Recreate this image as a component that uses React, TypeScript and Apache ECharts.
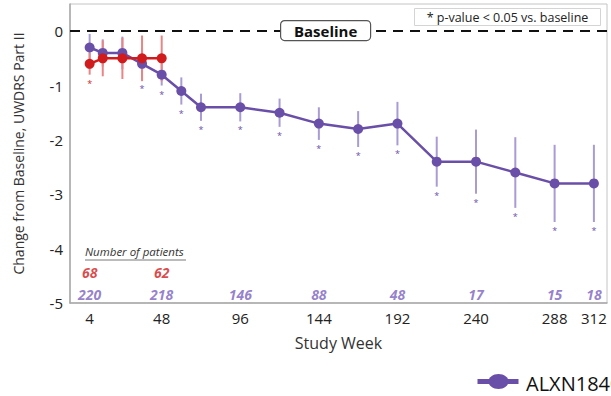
import React, { useEffect, useRef } from "react";
import * as echarts from "echarts";

// ---- Data ----
const alxnWeeks = [4, 12, 24, 36, 48, 60, 72, 96, 120, 144, 168, 192, 216, 240, 264, 288, 312];
const alxnMean = [-0.3, -0.4, -0.4, -0.6, -0.8, -1.1, -1.4, -1.4, -1.5, -1.7, -1.8, -1.7, -2.4, -2.4, -2.6, -2.8, -2.8];
const alxnErr = [0.25, 0.25, 0.3, 0.3, 0.2, 0.25, 0.25, 0.26, 0.26, 0.3, 0.33, 0.4, 0.46, 0.59, 0.65, 0.71, 0.71];
const alxnSig = [0, 0, 0, 1, 1, 1, 1, 1, 1, 1, 1, 1, 1, 1, 1, 1, 1];

const socWeeks = [4, 12, 24, 36, 48];
const socMean = [-0.6, -0.5, -0.5, -0.5, -0.5];
const socErr = [0.2, 0.33, 0.38, 0.42, 0.42];
const socSig = [1, 0, 0, 0, 0];

const alxnCountWeeks = [4, 48, 96, 144, 192, 240, 288, 312];
const alxnCounts = [220, 218, 146, 88, 48, 17, 15, 18];
const socCountWeeks = [4, 48];
const socCounts = [68, 62];

const xTickLabels = [4, 48, 96, 144, 192, 240, 288, 312];
const yTickLabels = [-5, -4, -3, -2, -1, 0];

const PURPLE = "#6A4FA8";
const PURPLE_LIGHT = "#A99BD4";
const RED = "#D01C1C";
const RED_LIGHT = "#E98585";
const FONT = "Open Sans";

function errorBarSeries(name: string, weeks: number[], mean: number[], err: number[], sig: number[], barColor: string, starColor: string) {
  return {
    type: "custom",
    name,
    z: 1,
    silent: true,
    encode: { x: 0, y: 1 },
    data: weeks.map((w, i) => [w, mean[i], err[i], sig[i]]),
    renderItem: (params: any, api: any) => {
      const x = api.value(0);
      const m = api.value(1);
      const e = api.value(2);
      const s = api.value(3);
      const top = api.coord([x, m + e]);
      const bot = api.coord([x, m - e]);
      const children: any[] = [
        {
          type: "line",
          shape: { x1: top[0], y1: top[1], x2: bot[0], y2: bot[1] },
          style: { stroke: barColor, lineWidth: 2 },
        },
      ];
      if (s) {
        children.push({
          type: "text",
          style: {
            text: "*",
            x: bot[0],
            y: bot[1] + 4,
            align: "center",
            verticalAlign: "top",
            fill: starColor,
            fontSize: 9,
            fontFamily: FONT,
          },
        });
      }
      return { type: "group", children };
    },
  };
}

export default function App() {
  const ref = useRef<HTMLDivElement>(null);

  useEffect(() => {
    if (!ref.current) return;
    const chart = echarts.init(ref.current, undefined, { renderer: "svg" });
    const option: any = {
      animation: false,
      textStyle: { fontFamily: FONT },
      grid: {
        left: 70,
        right: 4,
        top: 4,
        bottom: 93,
        show: true,
        borderColor: "#c4c4c4",
        borderWidth: 1,
        backgroundColor: "transparent",
      },
      xAxis: {
        type: "value",
        min: -8,
        max: 320,
        name: "Study Week",
        nameLocation: "middle",
        nameGap: 32,
        nameTextStyle: { fontSize: 16, color: "#333", fontFamily: FONT },
        axisLine: { show: true, onZero: false, lineStyle: { color: "#a8a8a8", width: 1.5 } },
        axisTick: { show: false },
        splitLine: { show: false },
        axisLabel: {
          customValues: xTickLabels,
          fontSize: 15,
          color: "#222",
          margin: 7,
          fontFamily: FONT,
        },
      },
      yAxis: {
        type: "value",
        min: -5,
        max: 0.5,
        name: "Change from Baseline, UWDRS Part II",
        nameLocation: "middle",
        nameGap: 45,
        nameTextStyle: { fontSize: 14, color: "#333", fontFamily: FONT },
        axisLine: { show: true, onZero: false, lineStyle: { color: "#a8a8a8", width: 1.5 } },
        axisTick: { show: false },
        splitLine: { show: false },
        axisLabel: {
          customValues: yTickLabels,
          fontSize: 15,
          color: "#222",
          margin: 7,
          fontFamily: FONT,
        },
      },
      series: [
        errorBarSeries("alxnErr", alxnWeeks, alxnMean, alxnErr, alxnSig, PURPLE_LIGHT, PURPLE),
        errorBarSeries("socErr", socWeeks, socMean, socErr, socSig, RED_LIGHT, RED),
        {
          type: "line",
          name: "ALXN1840",
          z: 3,
          data: alxnWeeks.map((w, i) => [w, alxnMean[i]]),
          symbol: "circle",
          symbolSize: 10,
          lineStyle: { color: PURPLE, width: 2.5 },
          itemStyle: { color: PURPLE },
          markLine: {
            silent: true,
            symbol: "none",
            label: { show: false },
            lineStyle: { color: "#111", type: [10, 7], width: 2.2 },
            data: [{ yAxis: 0 }],
          },
        },
        {
          type: "line",
          name: "Standard of care",
          z: 4,
          data: socWeeks.map((w, i) => [w, socMean[i]]),
          symbol: "circle",
          symbolSize: 10,
          lineStyle: { color: RED, width: 2.5 },
          itemStyle: { color: RED },
        },
        {
          type: "scatter",
          name: "alxnCounts",
          silent: true,
          symbolSize: 0,
          data: alxnCountWeeks.map((w, i) => [w, -4.84, alxnCounts[i]]),
          label: {
            show: true,
            position: "inside",
            formatter: (p: any) => String(p.value[2]),
            color: "#7B5FBE",
            fontSize: 14,
            fontStyle: "italic",
            fontWeight: "bold",
            fontFamily: FONT,
          },
        },
        {
          type: "scatter",
          name: "socCounts",
          silent: true,
          symbolSize: 0,
          data: socCountWeeks.map((w, i) => [w, -4.43, socCounts[i]]),
          label: {
            show: true,
            position: "inside",
            formatter: (p: any) => String(p.value[2]),
            color: RED,
            fontSize: 14,
            fontStyle: "italic",
            fontWeight: "bold",
            fontFamily: FONT,
          },
        },
      ],
      graphic: [
        {
          type: "group",
          left: 280,
          top: 20,
          z: 100,
          children: [
            {
              type: "rect",
              z: 100,
              shape: { x: 0, y: 0, width: 90, height: 20, r: 4 },
              style: { fill: "#fff", stroke: "#555", lineWidth: 1.2 },
            },
            {
              type: "text",
              z: 101,
              style: {
                text: "Baseline",
                x: 45,
                y: 10,
                align: "center",
                verticalAlign: "middle",
                fontSize: 15,
                fontWeight: "bold",
                fill: "#111",
                fontFamily: FONT,
              },
            },
          ],
        },
        {
          type: "group",
          left: 414,
          top: 8,
          z: 100,
          children: [
            {
              type: "rect",
              z: 100,
              shape: { x: 0, y: 0, width: 186, height: 17 },
              style: { fill: "#fff", stroke: "#d4d4d4", lineWidth: 1 },
            },
            {
              type: "text",
              z: 101,
              style: {
                text: "* p-value < 0.05 vs. baseline",
                x: 93,
                y: 9,
                align: "center",
                verticalAlign: "middle",
                fontSize: 12.5,
                fill: "#222",
                fontFamily: FONT,
              },
            },
          ],
        },
        {
          type: "text",
          left: 85,
          top: 245,
          style: {
            text: "Number of patients",
            fontSize: 11.5,
            fontStyle: "italic",
            fill: "#333",
            fontFamily: FONT,
          },
        },
        {
          type: "line",
          shape: { x1: 85, y1: 260, x2: 186, y2: 260 },
          style: { stroke: "#555", lineWidth: 0.8 },
        },
        {
          type: "group",
          left: 475,
          top: 374,
          children: [
            {
              type: "line",
              shape: { x1: 0, y1: 9, x2: 41, y2: 9 },
              style: { stroke: PURPLE, lineWidth: 5 },
            },
            {
              type: "ellipse",
              shape: { cx: 21, cy: 9, rx: 10, ry: 7.5 },
              style: { fill: PURPLE },
            },
          ],
        },
        {
          type: "text",
          x: 526,
          y: 383,
          style: {
            text: "ALXN1840",
            fontSize: 20,
            fill: "#111",
            fontFamily: FONT,
            verticalAlign: "middle",
            align: "left",
          },
        },
      ],
    };
    chart.setOption(option);
    return () => chart.dispose();
  }, []);

  return <div ref={ref} style={{ width: 611, height: 396, position: "absolute", left: 0, top: 0 }} />;
}
